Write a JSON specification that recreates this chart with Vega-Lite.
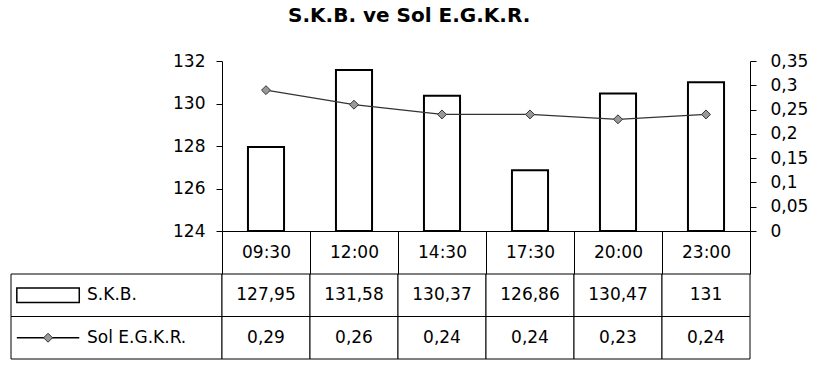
{
  "$schema": "https://vega.github.io/schema/vega-lite/v6.json",
  "padding": {"left": 10, "top": 6, "right": 5, "bottom": 5},
  "background": "white",
  "title": {"text": "S.K.B. ve Sol E.G.K.R.", "anchor": "middle", "frame": "bounds", "fontSize": 20, "fontWeight": "bold", "font": "DejaVu Sans", "color": "black", "offset": 26},
  "datasets": {
    "main": [
      {"time": "09:30", "skb": 127.95, "sol": 0.29},
      {"time": "12:00", "skb": 131.58, "sol": 0.26},
      {"time": "14:30", "skb": 130.37, "sol": 0.24},
      {"time": "17:30", "skb": 126.86, "sol": 0.24},
      {"time": "20:00", "skb": 130.47, "sol": 0.23},
      {"time": "23:00", "skb": 131, "sol": 0.24}
    ],
    "table": [
      {"time": "09:30", "series": "S.K.B.", "value": 127.95},
      {"time": "12:00", "series": "S.K.B.", "value": 131.58},
      {"time": "14:30", "series": "S.K.B.", "value": 130.37},
      {"time": "17:30", "series": "S.K.B.", "value": 126.86},
      {"time": "20:00", "series": "S.K.B.", "value": 130.47},
      {"time": "23:00", "series": "S.K.B.", "value": 131},
      {"time": "09:30", "series": "Sol E.G.K.R.", "value": 0.29},
      {"time": "12:00", "series": "Sol E.G.K.R.", "value": 0.26},
      {"time": "14:30", "series": "Sol E.G.K.R.", "value": 0.24},
      {"time": "17:30", "series": "Sol E.G.K.R.", "value": 0.24},
      {"time": "20:00", "series": "Sol E.G.K.R.", "value": 0.23},
      {"time": "23:00", "series": "Sol E.G.K.R.", "value": 0.24}
    ],
    "legend": [
      {"series": "S.K.B."},
      {"series": "Sol E.G.K.R."}
    ]
  },
  "columns": 2,
  "align": "each",
  "bounds": "flush",
  "spacing": {"row": 43, "column": 0},
  "concat": [
    {
      "width": 211, "height": 170,
      "data": {"values": []},
      "mark": {"type": "text"},
      "encoding": {}
    },
    {
      "width": 528, "height": 170,
      "data": {"name": "main"},
      "encoding": {
        "x": {"field": "time", "type": "nominal", "sort": null,
          "scale": {"paddingInner": 0, "paddingOuter": 0},
          "axis": {"title": null, "orient": "bottom", "tickBand": "extent", "tickSize": 43, "labelPadding": -22, "labelBaseline": "middle", "labelAngle": 0, "labelFontSize": 17, "labelColor": "black", "domainColor": "black", "tickColor": "black", "labelFont": "DejaVu Sans", "zindex": 1}}
      },
      "layer": [
        {
          "mark": {"type": "bar", "fill": "white", "stroke": "black", "strokeWidth": 2, "width": {"band": 0.41}},
          "encoding": {
            "y": {"field": "skb", "type": "quantitative",
              "scale": {"domain": [124, 132], "zero": false, "nice": false},
              "axis": {"title": null, "values": [124, 126, 128, 130, 132], "grid": false, "tickSize": 6, "labelPadding": 11, "labelFontSize": 17, "labelColor": "black", "domainColor": "black", "tickColor": "black", "labelOverlap": false, "labelFont": "DejaVu Sans"}},
            "y2": {"datum": 124}
          }
        },
        {
          "mark": {"type": "line", "color": "#333333", "strokeWidth": 1.2,
            "point": {"shape": "diamond", "size": 80, "filled": true, "fill": "#999999", "stroke": "#333333", "strokeWidth": 1, "opacity": 1}},
          "encoding": {
            "y": {"field": "sol", "type": "quantitative",
              "scale": {"domain": [0, 0.35], "nice": false},
              "axis": {"orient": "right", "title": null, "values": [0, 0.05, 0.1, 0.15, 0.2, 0.25, 0.3, 0.35], "labelExpr": "replace(format(datum.value, '~g'), '.', ',')", "grid": false, "tickSize": 6, "labelPadding": 14, "labelFontSize": 17, "labelColor": "black", "domainColor": "black", "tickColor": "black", "labelOverlap": false, "labelFont": "DejaVu Sans"}}
          }
        }
      ],
      "resolve": {"scale": {"y": "independent"}}
    },
    {
      "width": 211, "height": 85,
      "data": {"name": "legend"},
      "encoding": {
        "y": {"field": "series", "type": "nominal", "sort": null, "axis": null, "scale": {"paddingInner": 0, "paddingOuter": 0}}
      },
      "layer": [
        {"mark": {"type": "rect", "fill": "white", "stroke": "black", "strokeWidth": 1}},
        {
          "mark": {"type": "point", "size": 3900, "strokeWidth": 1.5, "filled": false, "stroke": "black", "opacity": 1},
          "encoding": {
            "x": {"datum": 0, "type": "quantitative", "scale": {"domain": [-0.95, 4.46], "nice": false, "zero": false}, "axis": null},
            "shape": {"field": "series", "type": "nominal", "scale": {"domain": ["S.K.B.", "Sol E.G.K.R."], "range": ["M-1,-0.23H1V0.23H-1Z", "M-1,0H1"]}, "legend": null}
          }
        },
        {
          "transform": [{"filter": "datum.series === 'Sol E.G.K.R.'"}],
          "mark": {"type": "point", "shape": "diamond", "size": 80, "filled": true, "fill": "#999999", "stroke": "#333333", "strokeWidth": 1, "opacity": 1},
          "encoding": {"x": {"datum": 0, "type": "quantitative"}}
        },
        {
          "mark": {"type": "text", "align": "left", "fontSize": 17, "color": "black", "font": "DejaVu Sans"},
          "encoding": {"x": {"datum": 1, "type": "quantitative"}, "text": {"field": "series"}}
        }
      ]
    },
    {
      "width": 528, "height": 85,
      "data": {"name": "table"},
      "encoding": {
        "x": {"field": "time", "type": "nominal", "sort": null, "axis": null, "scale": {"paddingInner": 0, "paddingOuter": 0}},
        "y": {"field": "series", "type": "nominal", "sort": null, "axis": null, "scale": {"paddingInner": 0, "paddingOuter": 0}}
      },
      "layer": [
        {"mark": {"type": "rect", "fill": "white", "stroke": "black", "strokeWidth": 1}},
        {"mark": {"type": "text", "fontSize": 17, "color": "black", "font": "DejaVu Sans"},
         "encoding": {"text": {"field": "value", "type": "quantitative", "format": "~g"}}}
      ]
    }
  ],
  "config": {
    "font": "DejaVu Sans",
    "view": {"stroke": null},
    "locale": {"number": {"decimal": ",", "thousands": ".", "grouping": [3], "currency": ["", ""]}}
  }
}
